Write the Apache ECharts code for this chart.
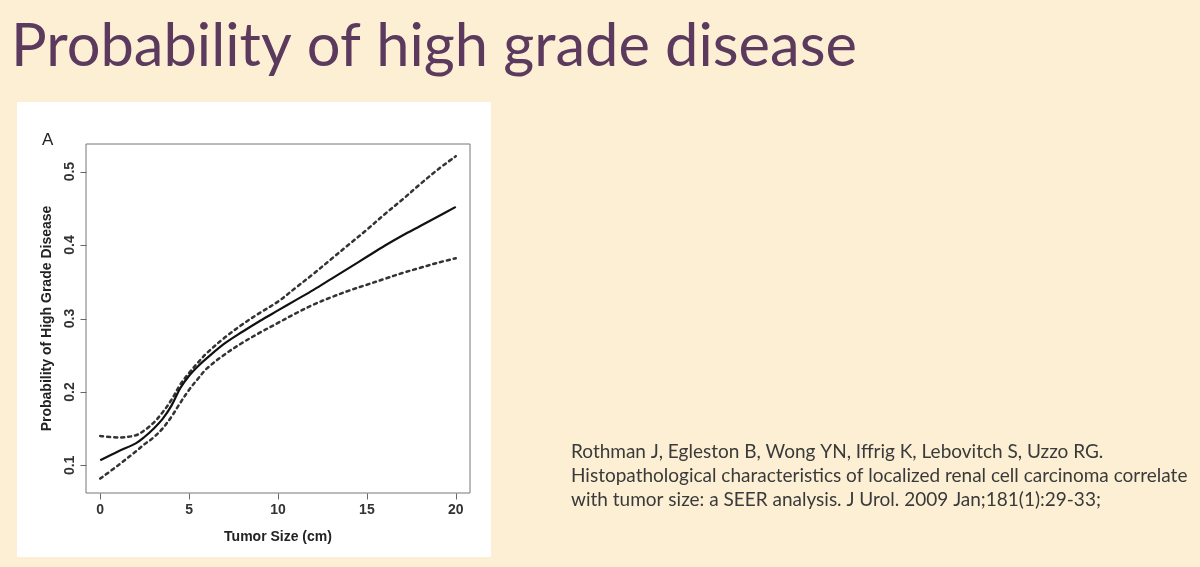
<!DOCTYPE html>
<html>
<head>
<meta charset="utf-8">
<title>Probability of high grade disease</title>
<script src="https://cdn.jsdelivr.net/npm/echarts@6/dist/echarts.min.js"></script>
<style>
  html, body { margin: 0; padding: 0; background: #fcefd4; }
  #wrap { position: relative; width: 1200px; height: 567px; }
  #panel { position: absolute; left: 17px; top: 102px; width: 474px; height: 455px; background: #fff; }
  #chart { position: absolute; left: 0; top: 0; width: 1200px; height: 567px; }
</style>
</head>
<body>
<div id="wrap">
  <div id="panel"></div>
  <div id="chart"></div>
</div>
<script>
  // tumor size (cm) at which the curves were read
  var sizes = [0, 1, 2, 2.5, 3, 3.5, 4, 4.5, 5, 5.5, 6, 7, 8, 9, 10, 11, 12, 13, 14, 15, 16, 17, 18, 19, 20];
  // fitted probability (solid)
  var fit = [0.107, 0.119, 0.130, 0.139, 0.150, 0.163, 0.181, 0.205, 0.222, 0.235, 0.246, 0.266, 0.282, 0.297, 0.311, 0.325, 0.339, 0.354, 0.369, 0.384, 0.399, 0.413, 0.426, 0.439, 0.452];
  // confidence bounds (dotted)
  var upper = [0.140, 0.138, 0.141, 0.148, 0.158, 0.172, 0.189, 0.210, 0.226, 0.240, 0.253, 0.274, 0.292, 0.308, 0.323, 0.342, 0.361, 0.381, 0.401, 0.421, 0.442, 0.462, 0.483, 0.503, 0.521];
  var lower = [0.082, 0.100, 0.119, 0.129, 0.138, 0.150, 0.166, 0.185, 0.203, 0.218, 0.232, 0.251, 0.267, 0.281, 0.294, 0.307, 0.319, 0.329, 0.338, 0.346, 0.354, 0.362, 0.369, 0.376, 0.382];
  // tick positions
  var xTicks = [0, 5, 10, 15, 20];
  var yTicks = [0.1, 0.2, 0.3, 0.4, 0.5];

  function pairs(ys) {
    return sizes.map(function (x, i) { return [x, ys[i]]; });
  }

  // plot box (R style: axis range padded 4% past the data)
  var box = { left: 86, top: 144, width: 384, height: 349 };
  var xMin = -0.8, xMax = 20.8, yMin = 0.0624, yMax = 0.5376;
  // inner grid spanning only the tick range, so labels start on a round value
  var kx = box.width / (xMax - xMin), ky = box.height / (yMax - yMin);
  var tx0 = xTicks[0], tx1 = xTicks[xTicks.length - 1];
  var ty0 = yTicks[0], ty1 = yTicks[yTicks.length - 1];
  var inner = {
    left: box.left + (tx0 - xMin) * kx,
    width: (tx1 - tx0) * kx,
    top: box.top + (yMax - ty1) * ky,
    height: (ty1 - ty0) * ky
  };
  var xOffset = (ty0 - yMin) * ky;
  var yOffset = (tx0 - xMin) * kx;

  var TICK_LEN = 6;

  // short outward tick marks, placed through the axis scale
  function tickRenderer(dx, dy) {
    return function (params, api) {
      var p = api.coord([api.value(0), api.value(1)]);
      var x = Math.round(p[0]) + 0.5, y = Math.round(p[1]) + 0.5;
      return {
        type: 'line',
        shape: { x1: x, y1: y, x2: x + dx, y2: y + dy },
        style: { stroke: '#666', lineWidth: 1 }
      };
    };
  }

  var chart = echarts.init(document.getElementById('chart'));
  var dotted = { color: '#333', width: 2.5, type: [3, 4], cap: 'round' };
  var labelFont = { fontFamily: 'Liberation Sans', fontSize: 14, fontWeight: 'bold', color: '#333' };
  var nameFont = { fontFamily: 'Liberation Sans', fontSize: 14, fontWeight: 'bold', color: '#222' };

  var option = {
    backgroundColor: 'transparent',
    animation: false,
    title: {
      text: 'Probability of high grade disease',
      left: 6,
      top: 12,
      textStyle: { fontFamily: 'Lato', fontSize: 59.6, fontWeight: 'normal', color: '#5b3a5e' }
    },
    graphic: [
      { type: 'text', left: 42, top: 132, style: { text: 'A', font: '17px "Liberation Sans"', fill: '#222' } },
      {
        type: 'text', left: 571, top: 440,
        style: {
          text: 'Rothman J, Egleston B, Wong YN, Iffrig K, Lebovitch S, Uzzo RG.\n' +
                'Histopathological characteristics of localized renal cell carcinoma correlate\n' +
                'with tumor size: a SEER analysis. J Urol. 2009 Jan;181(1):29-33;',
          font: '19px Lato', fill: '#3a3a3a', lineHeight: 24
        }
      }
    ],
    grid: [
      {
        left: box.left, top: box.top, width: box.width, height: box.height,
        show: true, borderColor: '#777', borderWidth: 1, backgroundColor: 'transparent'
      },
      { left: inner.left, top: inner.top, width: inner.width, height: inner.height }
    ],
    xAxis: [
      {
        type: 'value', gridIndex: 0, min: xMin, max: xMax,
        splitLine: { show: false }, axisLine: { show: false }, axisTick: { show: false }, axisLabel: { show: false }
      },
      {
        type: 'value', gridIndex: 1, min: tx0, max: tx1, interval: 5, offset: xOffset,
        name: 'Tumor Size (cm)', nameLocation: 'middle', nameGap: 37, nameTextStyle: nameFont,
        splitLine: { show: false },
        axisLine: { show: false, onZero: false },
        axisTick: { show: false },
        axisLabel: Object.assign({ margin: 10 }, labelFont)
      }
    ],
    yAxis: [
      {
        type: 'value', gridIndex: 0, min: yMin, max: yMax,
        splitLine: { show: false }, axisLine: { show: false }, axisTick: { show: false }, axisLabel: { show: false }
      },
      {
        type: 'value', gridIndex: 1, min: ty0, max: ty1, interval: 0.1, offset: yOffset,
        name: 'Probability of High Grade Disease', nameLocation: 'middle', nameGap: 32, nameTextStyle: nameFont,
        splitLine: { show: false },
        axisLine: { show: false, onZero: false },
        axisTick: { show: false },
        axisLabel: Object.assign({
          rotate: 90, margin: 9,
          formatter: function (v) { return v.toFixed(1); }
        }, labelFont)
      }
    ],
    series: [
      { name: 'upper', type: 'line', data: pairs(upper), smooth: 0.35, showSymbol: false, lineStyle: dotted },
      { name: 'fit', type: 'line', data: pairs(fit), smooth: 0.35, showSymbol: false, lineStyle: { color: '#111', width: 2.2 } },
      { name: 'lower', type: 'line', data: pairs(lower), smooth: 0.35, showSymbol: false, lineStyle: dotted },
      {
        name: 'xticks', type: 'custom', clip: false, silent: true, z: 10,
        data: xTicks.map(function (v) { return [v, yMin]; }),
        renderItem: tickRenderer(0, TICK_LEN)
      },
      {
        name: 'yticks', type: 'custom', clip: false, silent: true, z: 10,
        data: yTicks.map(function (v) { return [xMin, v]; }),
        renderItem: tickRenderer(-TICK_LEN, 0)
      }
    ]
  };
  chart.setOption(option);
</script>
</body>
</html>
